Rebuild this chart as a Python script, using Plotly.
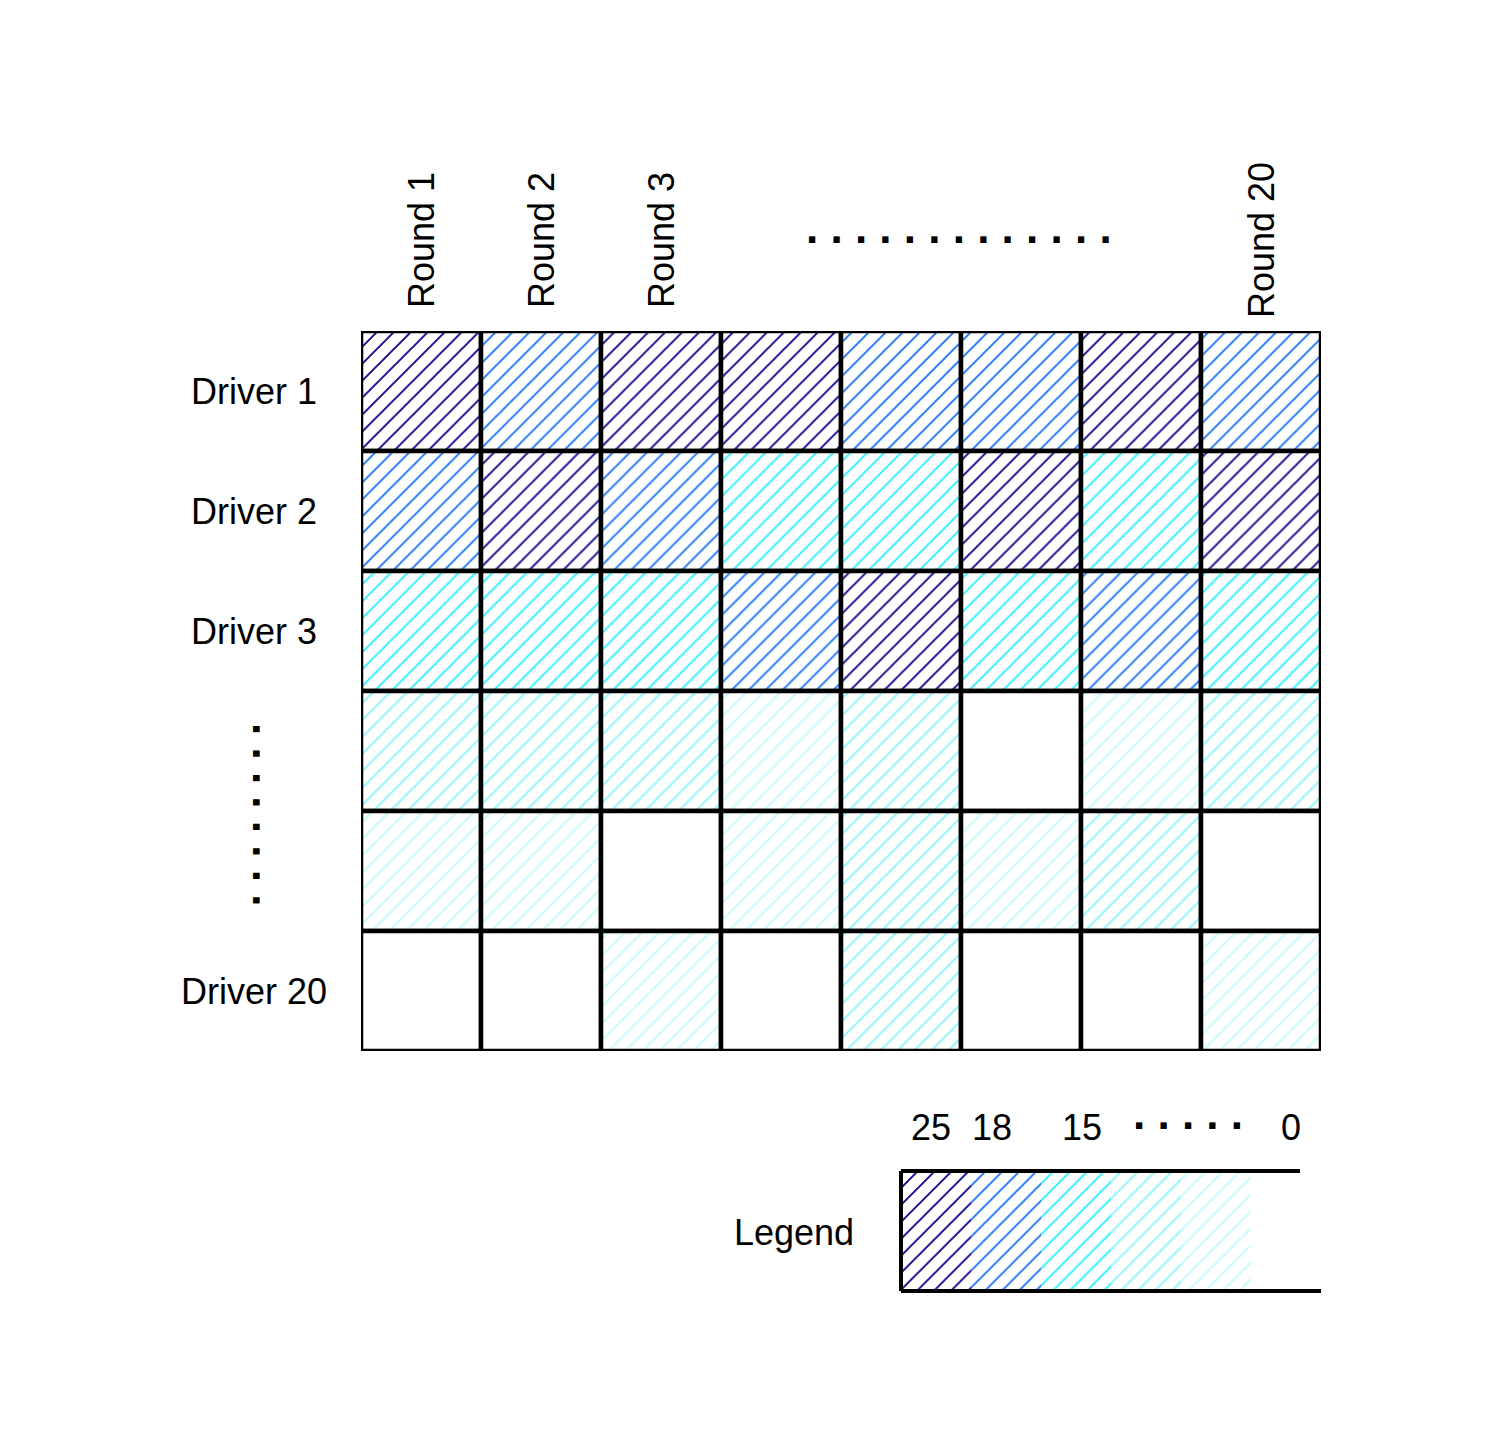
import plotly.graph_objects as go

# ---- data ----
rounds = ["Round 1", "Round 2", "Round 3", "", "", "", "", "Round 20"]
drivers = ["Driver 1", "Driver 2", "Driver 3", "", "", "Driver 20"]
points = [
    [25, 18, 25, 25, 18, 18, 25, 18],
    [18, 25, 18, 15, 15, 25, 15, 25],
    [15, 15, 15, 18, 25, 15, 18, 15],
    [12, 12, 12, 10, 12, 0, 10, 12],
    [10, 10, 0, 10, 12, 10, 12, 0],
    [0, 0, 10, 0, 12, 0, 0, 10],
]
legend_values = [25, 18, 15, 12, 10, 0]
legend_labels = ["25", "18", "15", "0"]
legend_label_pos = [-0.07, 0.8, 2.09, 5.07]

color_map = {
    25: "#14088f",
    18: "#1f78f5",
    15: "#2ef0ff",
    12: "#8ef6fb",
    10: "#c6fbfd",
    0: "#ffffff",
}

W, H = 1488, 1443
FONT = "Liberation Sans, Arial, sans-serif"
FS = 36
PAT = dict(shape="/", bgcolor="white", fillmode="replace", size=12, solidity=0.16)

fig = go.Figure()

ncols = len(rounds)
for r, row in enumerate(points):
    fig.add_trace(go.Bar(
        x=list(range(ncols)),
        y=[1] * ncols,
        base=[r - 0.5] * ncols,
        width=1,
        marker=dict(
            color="white",
            line=dict(color="black", width=4.5),
            pattern=dict(fgcolor=[color_map[v] for v in row], **PAT),
        ),
        hoverinfo="skip",
        showlegend=False,
        xaxis="x", yaxis="y",
    ))

# legend bar
fig.add_trace(go.Bar(
    x=list(range(len(legend_values))),
    y=[1] * len(legend_values),
    base=[0] * len(legend_values),
    width=1,
    marker=dict(
        color="white",
        line=dict(width=0),
        pattern=dict(fgcolor=[color_map[v] for v in legend_values], **PAT),
    ),
    hoverinfo="skip",
    showlegend=False,
    xaxis="x2", yaxis="y2",
))

annotations = []
# column labels
for i, lab in enumerate(rounds):
    if lab:
        annotations.append(dict(
            x=i, xref="x", y=1 - 240 / H, yref="paper",
            text=lab, textangle=-90, showarrow=False,
            xanchor="center", yanchor="middle",
            font=dict(family=FONT, size=FS, color="black"),
        ))
# row labels
for j, lab in enumerate(drivers):
    if lab:
        annotations.append(dict(
            x=254 / W, xref="paper", y=j, yref="y",
            text=lab, showarrow=False,
            xanchor="center", yanchor="middle",
            font=dict(family=FONT, size=FS, color="black"),
        ))
# ellipsis dots
annotations.append(dict(
    x=959 / W, xref="paper", y=1 - 227 / H, yref="paper",
    text=" ".join(["."] * 13), showarrow=False,
    xanchor="center", yanchor="middle",
    font=dict(family=FONT, size=44, color="black", weight="bold"),
))
annotations.append(dict(
    x=269 / W, xref="paper", y=1 - 814 / H, yref="paper",
    text=" ".join(["."] * 8), textangle=90, showarrow=False,
    xanchor="center", yanchor="middle",
    font=dict(family=FONT, size=44, color="black", weight="bold"),
))
# legend text
annotations.append(dict(
    x=794 / W, xref="paper", y=1 - 1232 / H, yref="paper",
    text="Legend", showarrow=False,
    xanchor="center", yanchor="middle",
    font=dict(family=FONT, size=FS, color="black"),
))
for lab, pos in zip(legend_labels, legend_label_pos):
    annotations.append(dict(
        x=pos, xref="x2", y=1 - 1127 / H, yref="paper",
        text=lab, showarrow=False,
        xanchor="center", yanchor="middle",
        font=dict(family=FONT, size=FS, color="black"),
    ))
annotations.append(dict(
    x=1188 / W, xref="paper", y=1 - 1113 / H, yref="paper",
    text=" ".join(["."] * 5), showarrow=False,
    xanchor="center", yanchor="middle",
    font=dict(family=FONT, size=44, color="black", weight="bold"),
))

shapes = [
    dict(type="line", xref="x2 domain", yref="y2 domain", x0=0, x1=0.95, y0=1, y1=1,
         line=dict(color="black", width=4)),
    dict(type="line", xref="x2 domain", yref="y2 domain", x0=0, x1=0, y0=0, y1=1,
         line=dict(color="black", width=4)),
    dict(type="line", xref="x2 domain", yref="y2 domain", x0=0, x1=1, y0=0, y1=0,
         line=dict(color="black", width=4)),
]

axis_off = dict(showgrid=False, zeroline=False, showticklabels=False, ticks="", showline=False)

fig.update_layout(
    width=W, height=H,
    margin=dict(l=0, r=0, t=0, b=0),
    paper_bgcolor="white", plot_bgcolor="rgba(0,0,0,0)",
    barmode="overlay",
    xaxis=dict(domain=[361 / W, 1321 / W], range=[-0.5, ncols - 0.5], **axis_off),
    yaxis=dict(domain=[1 - 1051 / H, 1 - 331 / H], range=[len(drivers) - 0.5, -0.5], **axis_off),
    xaxis2=dict(domain=[901 / W, 1321 / W], range=[-0.5, len(legend_values) - 0.5],
                anchor="y2", **axis_off),
    yaxis2=dict(domain=[1 - 1291 / H, 1 - 1171 / H], range=[0, 1], anchor="x2", **axis_off),
    annotations=annotations,
    shapes=shapes,
    font=dict(family=FONT),
)

fig.write_html("out.html")
